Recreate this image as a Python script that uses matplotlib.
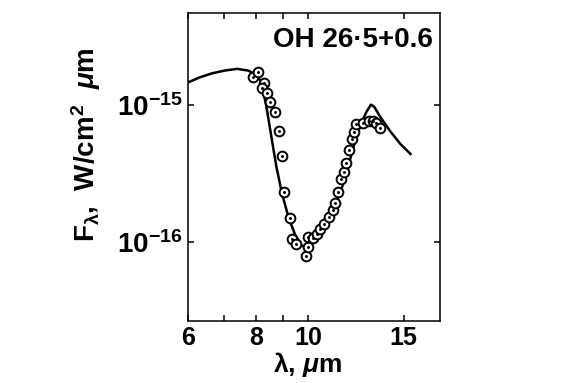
import matplotlib
matplotlib.use('Agg')
import matplotlib.pyplot as plt
from matplotlib.ticker import FixedLocator, NullFormatter

plt.rcParams.update({'font.family': 'Liberation Sans', 'font.weight': 'bold',
                     'mathtext.fontset': 'custom',
                     'mathtext.rm': 'Liberation Sans:bold',
                     'mathtext.bf': 'Liberation Sans:bold',
                     'mathtext.it': 'Liberation Sans:italic',
                     'mathtext.sf': 'Liberation Sans',
                     'mathtext.default': 'rm'})

# observed points (wavelength in um, flux W/cm^2 um)
obs_wl = [7.90, 8.09, 8.27, 8.21, 8.39, 8.50, 8.69, 8.85, 8.94, 9.03,
          9.26, 9.33, 9.49, 9.91, 9.97, 10.01, 10.21, 10.40, 10.52, 10.67,
          10.90, 11.11, 11.19, 11.37, 11.49, 11.62, 11.75, 11.87, 12.04, 12.16,
          12.26, 12.62, 12.92, 13.18, 13.35, 13.54]
obs_flux = [1.60e-15, 1.72e-15, 1.43e-15, 1.32e-15, 1.21e-15, 1.05e-15, 8.81e-16, 6.47e-16, 4.26e-16, 2.33e-16,
            1.49e-16, 1.05e-16, 9.67e-17, 7.95e-17, 9.20e-17, 1.09e-16, 1.07e-16, 1.15e-16, 1.25e-16, 1.36e-16,
            1.53e-16, 1.72e-16, 1.93e-16, 2.32e-16, 2.87e-16, 3.26e-16, 3.79e-16, 4.69e-16, 5.59e-16, 6.37e-16,
            7.18e-16, 7.33e-16, 7.59e-16, 7.55e-16, 7.30e-16, 6.77e-16]

# model curve
mod_wl = [6.00, 6.31, 6.65, 7.02, 7.39, 7.74, 7.98, 8.15, 8.27, 8.36,
          8.45, 8.57, 8.73, 8.94, 9.19, 9.46, 9.73, 9.87, 10.08, 10.43,
          10.98, 11.46, 11.80, 12.12, 12.47, 12.80, 13.05, 13.24, 13.58, 14.18,
          14.79, 15.44]
mod_flux = [1.45e-15, 1.58e-15, 1.69e-15, 1.77e-15, 1.82e-15, 1.77e-15, 1.67e-15, 1.51e-15, 1.21e-15, 9.95e-16,
            7.74e-16, 5.54e-16, 3.58e-16, 2.28e-16, 1.53e-16, 1.13e-16, 9.48e-17, 9.17e-17, 9.89e-17, 1.15e-16,
            1.61e-16, 2.28e-16, 3.35e-16, 4.93e-16, 7.00e-16, 8.85e-16, 1.00e-15, 9.62e-16, 8.14e-16, 6.37e-16,
            5.18e-16, 4.38e-16]

xticks = [6, 8, 10, 15]
xminor = [7, 9]
yticks = [1e-16, 1e-15]
yticklabels = [r'$10^{-16}$', r'$10^{-15}$']

fig = plt.figure(figsize=(5.7, 3.83), dpi=100)
ax = fig.add_axes([0.3298, 0.1627, 0.4421, 0.8042])

ax.plot(mod_wl, mod_flux, color='black', lw=1.8, zorder=2)
ax.plot(obs_wl, obs_flux, 'o', ms=7, mfc='white', mec='black', mew=1.4, zorder=3)
ax.plot(obs_wl, obs_flux, '.', ms=2.2, color='black', zorder=4)

ax.set_xscale('log')
ax.set_yscale('log')
ax.set_xlim(6, 17.5)
ax.set_ylim(2.69e-17, 4.66e-15)

ax.xaxis.set_major_locator(FixedLocator(xticks))
ax.set_xticklabels([str(t) for t in xticks])
ax.xaxis.set_minor_locator(FixedLocator(xminor))
ax.xaxis.set_minor_formatter(NullFormatter())
ax.yaxis.set_major_locator(FixedLocator(yticks))
ax.set_yticklabels(yticklabels)
ax.yaxis.set_minor_locator(FixedLocator([]))

ax.tick_params(which='both', direction='in', top=True, right=True,
               length=4.3, width=1.1)
ax.tick_params(axis='x', labelsize=18, pad=4)
ax.tick_params(axis='y', labelsize=20, pad=4)
for s in ax.spines.values():
    s.set_linewidth(1.1)

ax.text(0.971, 0.8896, 'OH 26\u00b75+0.6', transform=ax.transAxes,
        ha='right', va='baseline', fontsize=20, fontweight='bold')

fig.text(307.5 / 570, 1 - 371.7 / 383, r'$\mathsf{\lambda}$, $\mathit{\mu}$m',
         ha='center', va='baseline', fontsize=19, fontweight='bold')
fig.text(86 / 570, 1 - 144.5 / 383, r'F$_{\mathsf{\lambda}}$,  W/cm$^2$  $\mathit{\mu}$m',
         ha='center', va='center', rotation=90, fontsize=20, fontweight='bold')

fig.savefig('out.png', dpi=100)
